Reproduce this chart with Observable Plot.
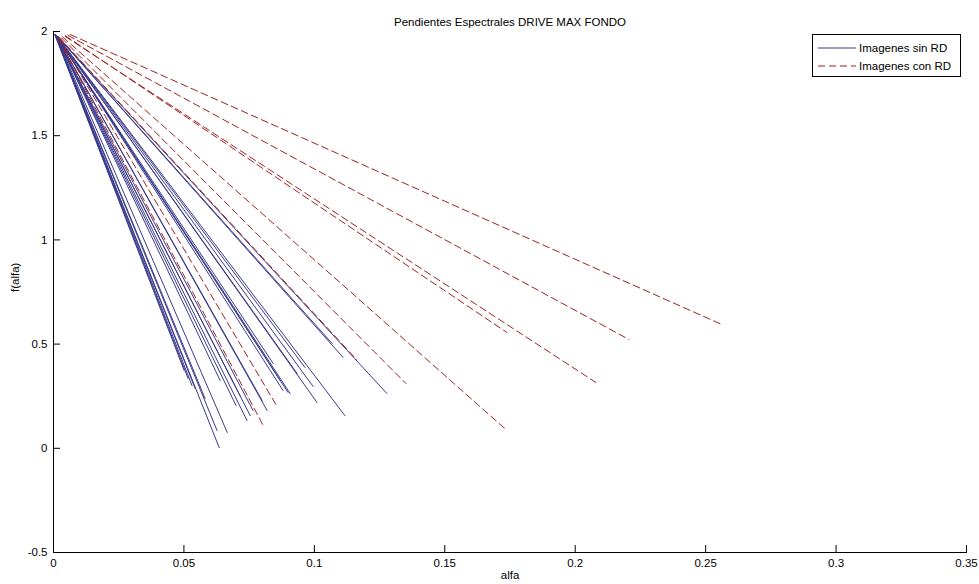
<!DOCTYPE html>
<html><head><meta charset="utf-8">
<script src="https://cdn.jsdelivr.net/npm/d3@7"></script>
<script src="https://cdn.jsdelivr.net/npm/@observablehq/plot@0.6"></script>
<style>
body{margin:0;background:#fff;font-family:"Liberation Sans",Arial,sans-serif;}
#wrap{position:relative;width:979px;height:584px;overflow:hidden;}
#legend{position:absolute;left:812px;top:34px;width:147px;height:41px;border:1px solid #000;background:#fff;}
</style></head>
<body><div id="wrap"><div id="chart"></div>
<div id="legend"><svg width="147" height="41" style="font-family:'Liberation Sans',Arial,sans-serif;font-size:11.5px">
<line x1="5" x2="43" y1="13" y2="13" stroke="#3a3a8c" stroke-width="1"/>
<text x="46" y="13" dy="0.35em">Imagenes sin RD</text>
<line x1="5" x2="43" y1="31" y2="31" stroke="#a02020" stroke-width="1" stroke-dasharray="7,4"/>
<text x="46" y="31" dy="0.35em">Imagenes con RD</text>
</svg></div></div>
<script>
const title = "Pendientes Espectrales DRIVE MAX FONDO";
const xLabel = "alfa";
const yLabel = "f(alfa)";
const xTicks = [0, 0.05, 0.1, 0.15, 0.2, 0.25, 0.3, 0.35];
const xTickLabels = ["0", "0.05", "0.1", "0.15", "0.2", "0.25", "0.3", "0.35"];
const yTicks = [-0.5, 0, 0.5, 1, 1.5, 2];
const yTickLabels = ["-0.5", "0", "0.5", "1", "1.5", "2"];

// Imagenes sin RD: start and end of each spectral slope
const sinRD_alfaStart = [0.0006,0.0008,0.0005,0.0006,0.0007,0.0008,0.0009,0.0008,0.0007,0.0010,0.0011,0.0012,0.0012,0.0010,0.0013,0.0014,0.0014,0.0016,0.0015,0.0011,0.0008,0.0010,0.0012,0.0006,0.0007,0.0006,0.0011,0.0013,0.0008];
const sinRD_fStart    = [1.985,1.984,1.986,1.985,1.985,1.983,1.982,1.983,1.984,1.982,1.981,1.980,1.980,1.981,1.979,1.978,1.978,1.976,1.977,1.981,1.983,1.982,1.980,1.985,1.984,1.985,1.981,1.979,1.983];
const sinRD_alfaEnd   = [0.0635,0.0666,0.0501,0.0516,0.0531,0.0639,0.0742,0.0765,0.0754,0.0819,0.0899,0.0934,0.0964,0.0907,0.1010,0.1117,0.1110,0.1278,0.1068,0.0842,0.0715,0.0800,0.0869,0.0627,0.0581,0.0543,0.0880,0.0995,0.0700];
const sinRD_fEnd      = [0.004,0.076,0.373,0.335,0.301,0.325,0.133,0.181,0.157,0.181,0.268,0.359,0.388,0.263,0.220,0.157,0.436,0.263,0.503,0.407,0.253,0.229,0.325,0.085,0.239,0.287,0.277,0.297,0.205];

// Imagenes con RD
const conRD_alfaStart = [0.0065,0.0055,0.0045,0.0035,0.0030,0.0045,0.0018,0.0022,0.0020];
const conRD_fStart    = [1.985,1.982,1.976,1.974,1.970,1.980,1.977,1.966,1.965];
const conRD_alfaEnd   = [0.2562,0.2206,0.2079,0.1730,0.1351,0.1738,0.1163,0.0857,0.0804];
const conRD_fEnd      = [0.594,0.522,0.316,0.095,0.311,0.556,0.424,0.201,0.109];

function build(x0, y0, x1, y1, prefix) {
  const rows = [];
  x0.forEach((_, i) => {
    rows.push({id: prefix + i, alfa: x0[i], f: y0[i]});
    rows.push({id: prefix + i, alfa: x1[i], f: y1[i]});
  });
  return rows;
}
const sinRows = build(sinRD_alfaStart, sinRD_fStart, sinRD_alfaEnd, sinRD_fEnd, "s");
const conRows = build(conRD_alfaStart, conRD_fStart, conRD_alfaEnd, conRD_fEnd, "c");

const font = "'Liberation Sans', Arial, sans-serif";
const chart = Plot.plot({
  width: 979, height: 584,
  marginLeft: 53, marginRight: 13, marginTop: 31, marginBottom: 32,
  x: {domain: [0, 0.35]},
  y: {domain: [-0.5, 2]},
  style: {fontFamily: font, fontSize: "11.5px", background: "white", color: "#000", overflow: "visible"},
  marks: [
    Plot.line(sinRows, {x: "alfa", y: "f", z: "id", stroke: "#3a3a8c", strokeWidth: 1}),
    Plot.line(conRows, {x: "alfa", y: "f", z: "id", stroke: "#a02020", strokeWidth: 1, strokeDasharray: "7,4"}),
    Plot.frame({anchor: "left", stroke: "#000"}),
    Plot.frame({anchor: "bottom", stroke: "#000"}),
    Plot.axisX({ticks: xTicks, tickSize: -7, tickFormat: () => "", label: null}),
    Plot.axisX({ticks: xTicks, tickSize: 0, tickPadding: 6, tickFormat: d => xTickLabels[xTicks.indexOf(d)], label: null}),
    Plot.axisY({ticks: yTicks, tickSize: -7, tickFormat: () => "", label: null}),
    Plot.axisY({ticks: yTicks, tickSize: 0, tickPadding: 6, tickFormat: d => yTickLabels[yTicks.indexOf(d)], label: null}),
    Plot.text([title], {frameAnchor: "top", dy: -14, text: d => d}),
    Plot.text([xLabel], {frameAnchor: "bottom", dy: 26, text: d => d}),
    Plot.text([yLabel], {frameAnchor: "left", dx: -38, rotate: -90, text: d => d})
  ]
});
document.getElementById("chart").appendChild(chart);
</script>
</body></html>
